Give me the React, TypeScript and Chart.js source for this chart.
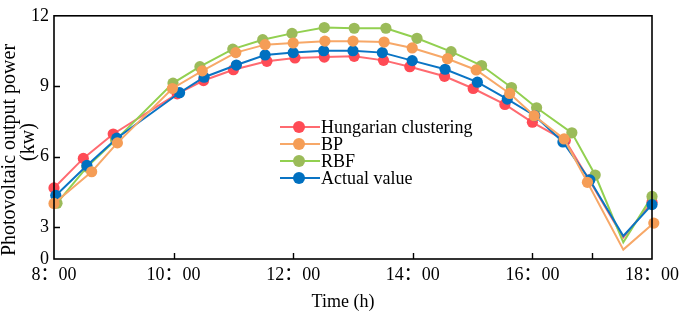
import React, { useEffect, useRef } from "react";
import { Chart, registerables } from "chart.js";

Chart.register(...registerables);

// ---- Data ----
const seriesNames = ["Hungarian clustering", "BP", "RBF", "Actual value"];

const hungarianTimes = [8.0, 8.49, 8.99, 10.06, 10.5, 11.0, 11.56, 12.03, 12.52, 13.02, 13.51, 13.95, 14.53, 15.01, 15.54, 16.0, 16.55, 16.95, 17.52, 18.0];
const hungarianValues = [4.66, 5.92, 6.96, 8.67, 9.24, 9.7, 10.06, 10.2, 10.24, 10.27, 10.1, 9.83, 9.42, 8.9, 8.22, 7.46, 6.68, 5.0, 2.55, 4.05];

const bpTimes = [8.0, 8.63, 9.06, 9.98, 10.48, 11.04, 11.53, 12.0, 12.53, 13.0, 13.52, 13.99, 14.58, 15.06, 15.62, 16.03, 16.53, 16.92, 17.52, 18.03];
const bpValues = [4.0, 5.35, 6.58, 8.9, 9.65, 10.43, 10.77, 10.84, 10.92, 10.92, 10.88, 10.63, 10.17, 9.69, 8.69, 7.74, 6.75, 4.9, 2.03, 3.16];

const rbfTimes = [8.05, 8.55, 9.03, 9.99, 10.44, 10.99, 11.49, 11.98, 12.52, 13.02, 13.55, 14.07, 14.64, 15.15, 15.65, 16.07, 16.66, 17.05, 17.52, 18.0];
const rbfValues = [4.01, 5.55, 6.7, 9.13, 9.83, 10.58, 10.98, 11.25, 11.5, 11.47, 11.47, 11.04, 10.47, 9.88, 8.94, 8.08, 7.01, 5.21, 2.34, 4.3];

const actualTimes = [8.03, 8.55, 9.05, 10.1, 10.51, 11.05, 11.53, 12.0, 12.51, 13.0, 13.49, 13.99, 14.54, 15.08, 15.58, 16.04, 16.51, 16.96, 17.52, 18.0];
const actualValues = [4.34, 5.62, 6.78, 8.72, 9.38, 9.9, 10.33, 10.43, 10.51, 10.51, 10.43, 10.09, 9.72, 9.17, 8.45, 7.74, 6.62, 5.0, 2.61, 3.95];

// index of the vertex drawn without a marker (17:30 dip)
const unmarkedIndex = 18;

const xTickValues = [8, 10, 12, 14, 16, 17, 18];
const xTickLabels = ["8：00", "10：00", "12：00", "14：00", "16：00", "", "18：00"];
const yTickValues = [3, 6, 9, 12];
const yTickLabels = ["3", "6", "9", "12"];
const yAxisMin = 1.63;
const yAxisMax = 12;
const yBottomLabel = "0";

const xTitle = "Time (h)";
const yTitleLines = ["Photovoltaic output power", "(kw)"];

const markerColors = ["#FF4B55", "#F59D56", "#9BBB59", "#0070C0"];
const lineColors = ["#FF6A70", "#F7A868", "#92D050", "#0A74C4"];
const drawOrder = [4, 1, 3, 2];

const FONT = "'Liberation Serif', 'Times New Roman', 'Noto Sans CJK SC', serif";

function pts(xs: number[], ys: number[]) {
  return xs.map((x, i) => ({ x, y: ys[i] }));
}

const decorPlugin = {
  id: "decor",
  afterDraw(chart: any) {
    const { ctx, chartArea } = chart;
    const { left, right, top, bottom } = chartArea;
    const xs = chart.scales.x;
    const ys = chart.scales.y;
    ctx.save();
    // frame
    ctx.strokeStyle = "#000";
    ctx.lineWidth = 1.6;
    ctx.strokeRect(left, top, right - left, bottom - top);
    // inner ticks
    ctx.lineWidth = 1.4;
    ctx.beginPath();
    xTickValues.forEach((v) => {
      if (v === xs.min || v === xs.max) return;
      const px = Math.round(xs.getPixelForValue(v)) + 0.5;
      ctx.moveTo(px, bottom);
      ctx.lineTo(px, bottom - 6);
    });
    yTickValues.forEach((v) => {
      if (v === ys.max) return;
      const py = Math.round(ys.getPixelForValue(v)) + 0.5;
      ctx.moveTo(left, py);
      ctx.lineTo(left + 6, py);
    });
    ctx.stroke();

    // legend
    ctx.font = `18px ${FONT}`;
    ctx.textBaseline = "middle";
    ctx.textAlign = "left";
    const rows = [127, 144, 161, 178];
    chart.data.datasets.forEach((ds: any, i: number) => {
      const y = rows[i];
      ctx.strokeStyle = ds.borderColor;
      ctx.lineWidth = 2;
      ctx.beginPath();
      ctx.moveTo(280, y);
      ctx.lineTo(320, y);
      ctx.stroke();
      ctx.fillStyle = ds.pointBackgroundColor;
      ctx.beginPath();
      ctx.arc(299, y, 6, 0, Math.PI * 2);
      ctx.fill();
      ctx.fillStyle = "#000";
      ctx.fillText(ds.label, 321, y + 1);
    });

    // axis titles
    ctx.fillStyle = "#000";
    ctx.textAlign = "center";
    ctx.font = `18px ${FONT}`;
    ctx.fillText(xTitle, 343, 302);
    ctx.font = `20px ${FONT}`;
    const yCenters = [[9, 150], [28, 142]];
    yTitleLines.forEach((t, i) => {
      ctx.save();
      ctx.translate(yCenters[i][0], yCenters[i][1]);
      ctx.rotate(-Math.PI / 2);
      ctx.fillText(t, 0, 1);
      ctx.restore();
    });
    ctx.restore();
  },
};

export default function App() {
  const canvasRef = useRef<HTMLCanvasElement | null>(null);

  useEffect(() => {
    document.body.style.margin = "0";
    const canvas = canvasRef.current;
    if (!canvas) return;
    const allTimes = [hungarianTimes, bpTimes, rbfTimes, actualTimes];
    const allValues = [hungarianValues, bpValues, rbfValues, actualValues];
    const datasets = seriesNames.map((name, i) => ({
      label: name,
      data: pts(allTimes[i], allValues[i]),
      borderColor: lineColors[i],
      backgroundColor: markerColors[i],
      pointBackgroundColor: markerColors[i],
      pointBorderWidth: 0,
      pointRadius: allTimes[i].map((_, k) => (k === unmarkedIndex ? 0 : 5.6)),
      borderWidth: 2,
      tension: 0,
      fill: false,
      clip: false as any,
      order: drawOrder[i],
    }));

    const chart = new Chart(canvas, {
      type: "line",
      data: { datasets },
      options: {
        animation: false,
        responsive: false,
        devicePixelRatio: 1,
        layout: { padding: { top: 6, right: 33, left: 0, bottom: 0 } },
        plugins: {
          legend: { display: false },
          tooltip: { enabled: false },
        },
        scales: {
          x: {
            type: "linear",
            min: 8,
            max: 18,
            grid: { display: false, drawTicks: false },
            border: { display: false },
            afterBuildTicks: (scale: any) => {
              scale.ticks = xTickValues.map((v) => ({ value: v }));
            },
            afterFit: (scale: any) => {
              scale.height = 54;
            },
            ticks: {
              autoSkip: false,
              maxRotation: 0,
              padding: 5,
              color: "#000",
              font: { family: FONT, size: 18 },
              callback: (v: any) => {
                const i = xTickValues.indexOf(Number(v));
                return i >= 0 ? xTickLabels[i] : "";
              },
            },
          },
          y: {
            type: "linear",
            min: yAxisMin,
            max: yAxisMax,
            grid: { display: false, drawTicks: false },
            border: { display: false },
            afterBuildTicks: (scale: any) => {
              scale.ticks = [yAxisMin, ...yTickValues].map((v) => ({ value: v }));
            },
            afterFit: (scale: any) => {
              scale.width = 54;
            },
            ticks: {
              autoSkip: false,
              padding: 5,
              color: "#000",
              font: { family: FONT, size: 18 },
              callback: (v: any) => {
                const n = Number(v);
                if (n === yAxisMin) return yBottomLabel;
                const i = yTickValues.indexOf(n);
                return i >= 0 ? yTickLabels[i] : "";
              },
            },
          },
        },
      },
      plugins: [decorPlugin],
    });
    return () => chart.destroy();
  }, []);

  return (
    <div style={{ width: 685, height: 313, background: "#fff" }}>
      <canvas ref={canvasRef} width={685} height={313} style={{ display: "block" }} />
    </div>
  );
}
